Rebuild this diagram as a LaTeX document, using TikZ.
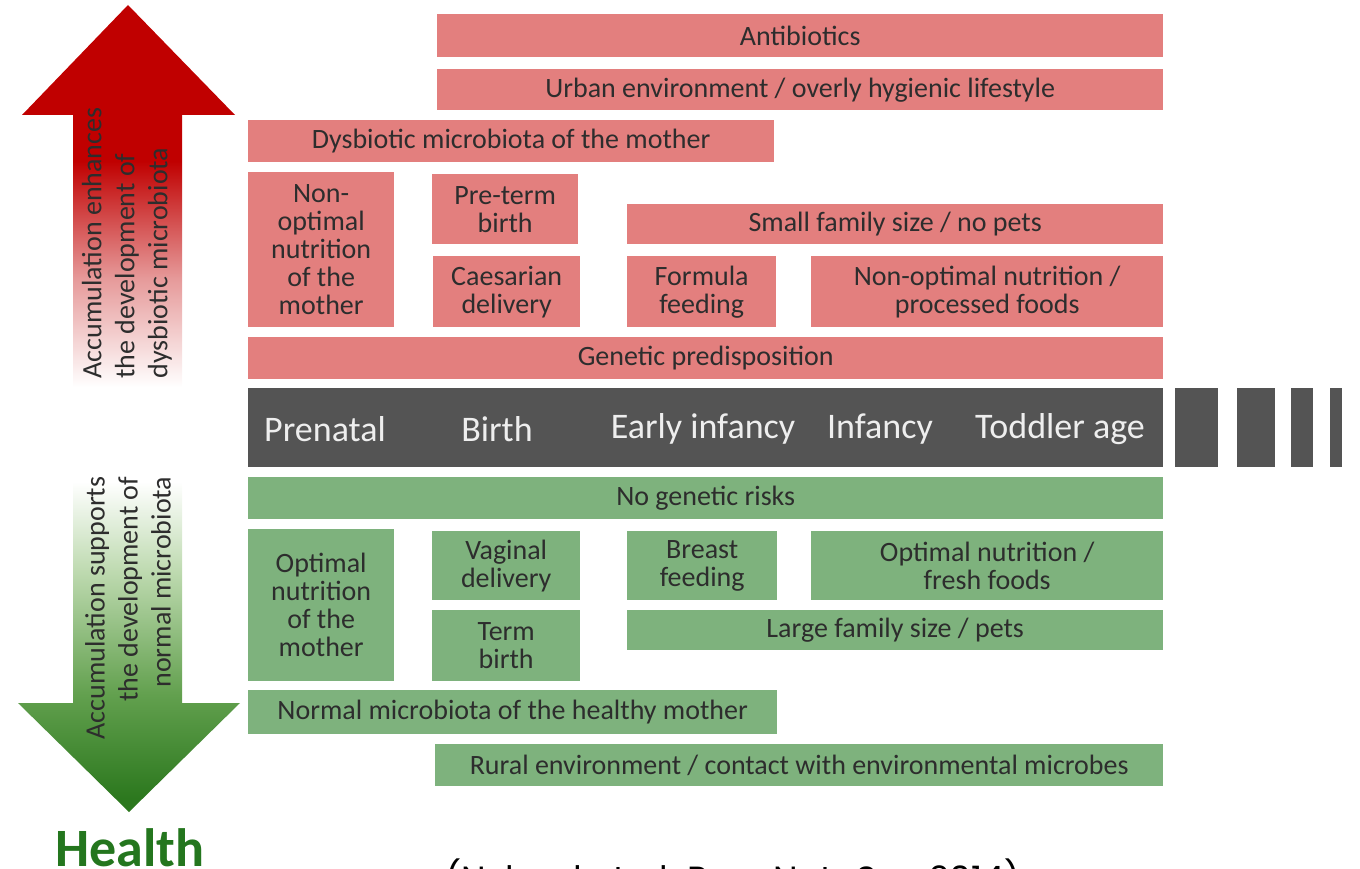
\documentclass[tikz,border=0pt]{standalone}
\usepackage{fontspec}
\setmainfont{Carlito}
\newfontfamily\citefont{Poppins}
\definecolor{boxred}{RGB}{227,127,126}
\definecolor{boxgreen}{RGB}{126,178,125}
\definecolor{bardark}{RGB}{84,84,84}
\definecolor{boxtext}{RGB}{45,45,45}
\definecolor{arrowred}{RGB}{192,0,0}
\definecolor{greendark}{RGB}{44,120,30}
\definecolor{greenmid}{RGB}{98,160,78}
\definecolor{greenlight}{RGB}{190,218,176}
\definecolor{healthgreen}{RGB}{36,118,30}
\pgfdeclareverticalshading{redfade}{100bp}{color(0bp)=(white); color(26bp)=(white); color(40bp)=(arrowred!40!white); color(55bp)=(arrowred); color(100bp)=(arrowred)}
\pgfdeclareverticalshading{greenfade}{100bp}{color(0bp)=(greendark); color(27bp)=(greendark); color(42bp)=(greenmid); color(60bp)=(greenlight); color(73bp)=(white); color(100bp)=(white)}
\begin{document}
\begin{tikzpicture}[x=1pt,y=-1pt,
  factor/.style={inner sep=0pt, anchor=north west, align=center, text=boxtext,
    font=\fontsize{28}{28}\selectfont},
  redbox/.style={factor, fill=boxred},
  greenbox/.style={factor, fill=boxgreen},
  stage/.style={text={rgb,255:red,238;green,238;blue,238}, font=\fontsize{36}{40}\selectfont},
  sidetext/.style={rotate=90, text=boxtext, font=\fontsize{28}{33}\selectfont}]
\useasboundingbox (0,0) rectangle (1360,869);
%
\shade[shading=redfade] (73,395) -- (73,115) -- (22,115) -- (128,5) -- (235,115) -- (182,115) -- (182,395) -- cycle;
\node[sidetext, align=left] (up) at (127,243) {Accumulation enhances\\the development of\\dysbiotic microbiota};
\shade[shading=greenfade] (73,468) -- (73,703) -- (18,703) -- (129,812) -- (240,703) -- (182,703) -- (182,468) -- cycle;
\node[sidetext, align=right] (down) at (128,608) {Accumulation supports\\the development of\\normal microbiota};
\node[anchor=base, text=healthgreen, font=\fontsize{54}{60}\selectfont\bfseries] (health) at (130,866) {Health};
%
\node[redbox, minimum width=726, minimum height=43] (anti) at (437,14) {Antibiotics};
\node[redbox, minimum width=726, minimum height=41] (urban) at (437,69) {Urban environment / overly hygienic lifestyle};
\node[redbox, minimum width=526, minimum height=42] (dysmother) at (248,120) {Dysbiotic microbiota of the mother};
\node[redbox, minimum width=146, minimum height=155] (nonoptmother) at (248,172) {Non-\\optimal\\nutrition\\of the\\mother};
\node[redbox, minimum width=146, minimum height=70] (preterm) at (432,174) {Pre-term\\birth};
\node[redbox, minimum width=147, minimum height=71] (caesar) at (433,256) {Caesarian\\delivery};
\node[redbox, minimum width=536, minimum height=40] (small) at (627,204) {Small family size / no pets};
\node[redbox, minimum width=149, minimum height=71] (formula) at (627,256) {Formula\\feeding};
\node[redbox, minimum width=352, minimum height=71] (processed) at (811,256) {Non-optimal nutrition /\\processed foods};
\node[redbox, minimum width=915, minimum height=42] (genpre) at (248,337) {Genetic predisposition};
%
\node[anchor=north west, fill=bardark, minimum width=915, minimum height=79, inner sep=0pt] (timeline) at (248,388) {};
\foreach \a/\b in {1175/1218, 1237/1275, 1291/1313, 1330/1342}
  \fill[bardark] (\a,388) rectangle (\b,467);
\node[stage] (prenatal) at (325,429) {Prenatal};
\node[stage] (birth) at (497,429) {Birth};
\node[stage] (early) at (703,429) {Early infancy};
\node[stage] (infancy) at (880,429) {Infancy};
\node[stage] (toddler) at (1060,429) {Toddler age};
%
\node[greenbox, minimum width=915, minimum height=42] (nogen) at (248,477) {No genetic risks};
\node[greenbox, minimum width=146, minimum height=152] (optmother) at (248,529) {Optimal\\nutrition\\of the\\mother};
\node[greenbox, minimum width=148, minimum height=69] (vaginal) at (432,531) {Vaginal\\delivery};
\node[greenbox, minimum width=150, minimum height=69] (breast) at (627,531) {Breast\\feeding};
\node[greenbox, minimum width=352, minimum height=69] (fresh) at (811,531) {Optimal nutrition /\\fresh foods};
\node[greenbox, minimum width=148, minimum height=71] (term) at (432,610) {Term\\birth};
\node[greenbox, minimum width=536, minimum height=40] (large) at (627,610) {Large family size / pets};
\node[greenbox, minimum width=529, minimum height=44] (normother) at (248,690) {Normal microbiota of the healthy mother};
\node[greenbox, minimum width=728, minimum height=42] (rural) at (435,744) {Rural environment / contact with environmental microbes};
%
\node[anchor=base, text=black, font=\citefont\fontsize{35}{40}\selectfont] (cite) at (733,891) {(Nylund et al. Proc Nutr Soc 2014)};
\end{tikzpicture}
\end{document}
